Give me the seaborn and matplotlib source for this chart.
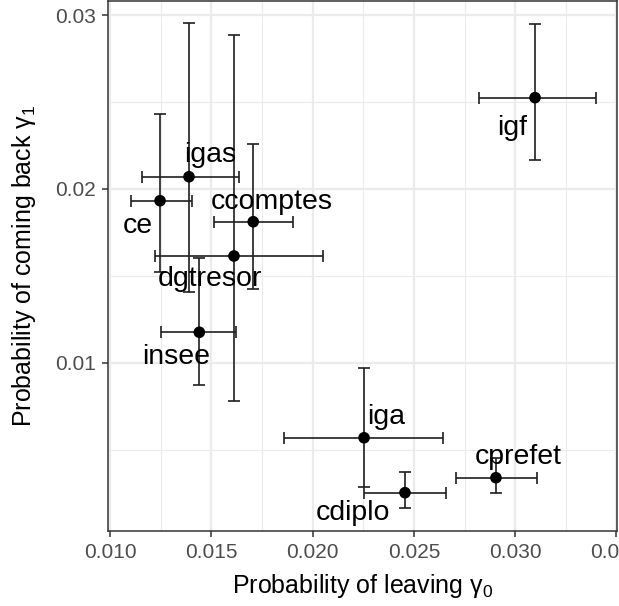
import pandas as pd
import matplotlib
matplotlib.use("Agg")
import matplotlib.pyplot as plt
import seaborn as sns

# Valeurs
corps = ["igf", "igas", "ce", "ccomptes", "dgtresor", "insee", "iga", "cdiplo", "cprefet"]
gamma0 = [0.03098, 0.01390, 0.01247, 0.01707, 0.01612, 0.01441, 0.02254, 0.02456, 0.02905]
gamma0_lo = [0.02821, 0.01158, 0.01102, 0.01513, 0.01222, 0.01252, 0.01859, 0.02254, 0.02709]
gamma0_hi = [0.03397, 0.01637, 0.01403, 0.01905, 0.02053, 0.01620, 0.02645, 0.02657, 0.03106]
gamma1 = [0.02525, 0.02070, 0.01932, 0.01811, 0.01614, 0.01175, 0.00568, 0.00252, 0.00338]
gamma1_lo = [0.02166, 0.01409, 0.01522, 0.01422, 0.00781, 0.00872, 0.00287, 0.00162, 0.00249]
gamma1_hi = [0.02949, 0.02953, 0.02431, 0.02257, 0.02886, 0.01601, 0.00971, 0.00373, 0.00453]

x_ticks = [0.010, 0.015, 0.020, 0.025, 0.030, 0.035]
y_ticks = [0.01, 0.02, 0.03]

# décalage des étiquettes (pixels)
label_dx = [-23, 21, -22, 19, -24, -23, 22, -52, 22]
label_dy = [-30, 22, -25, 20, -23, -25, 21, -20, 21]

df = pd.DataFrame({"corps": corps, "g0": gamma0, "g0_lo": gamma0_lo, "g0_hi": gamma0_hi,
                   "g1": gamma1, "g1_lo": gamma1_lo, "g1_hi": gamma1_hi})

sns.set_style("white")
plt.rcParams["font.family"] = ["Liberation Sans", "DejaVu Sans"]
plt.rcParams["mathtext.fontset"] = "custom"
plt.rcParams["mathtext.rm"] = "Liberation Sans"
plt.rcParams["mathtext.it"] = "Liberation Sans"

fig = plt.figure(figsize=(6.19, 6.06), dpi=100)
ax = fig.add_axes([108 / 619, 1 - 531 / 606, (617 - 108) / 619, 530 / 606])

ax.errorbar(df["g0"], df["g1"],
            xerr=[df["g0"] - df["g0_lo"], df["g0_hi"] - df["g0"]],
            yerr=[df["g1"] - df["g1_lo"], df["g1_hi"] - df["g1"]],
            fmt="none", ecolor="#1f1f1f", elinewidth=1.2, capsize=4, capthick=1.2, zorder=2)
sns.scatterplot(data=df, x="g0", y="g1", color="black", s=70, edgecolor="none", ax=ax, zorder=3)

for i, row in df.iterrows():
    ax.annotate(row["corps"], (row["g0"], row["g1"]), xytext=(label_dx[i], label_dy[i]),
                textcoords="offset pixels", ha="center", va="center", fontsize=20.5, color="black", zorder=4)

ax.set_xlim(0.0099013, 0.035025)
ax.set_ylim(0.000316, 0.030811)
ax.set_xticks(x_ticks)
ax.set_xticklabels([f"{v:.3f}" for v in x_ticks])
ax.set_yticks(y_ticks)
ax.set_yticklabels([f"{v:.2f}" for v in y_ticks])
ax.set_xticks([0.0125, 0.0175, 0.0225, 0.0275, 0.0325], minor=True)
ax.set_yticks([0.005, 0.015, 0.025], minor=True)
ax.grid(True, which="major", color="#EBEBEB", lw=1.6, zorder=0)
ax.grid(True, which="minor", color="#EBEBEB", lw=0.8, zorder=0)
ax.set_axisbelow(True)
ax.tick_params(which="major", length=4.5, width=1.1, color="#333333", labelcolor="#4D4D4D",
               labelsize=15, pad=4, bottom=True, left=True)
ax.tick_params(which="minor", length=0)
for sp in ax.spines.values():
    sp.set_color("#333333")
    sp.set_linewidth(1.1)

ax.set_xlabel(r"Probability of leaving $\gamma_0$", fontsize=18, color="black")
ax.set_ylabel(r"Probability of coming back $\gamma_1$", fontsize=18, color="black")
ax.xaxis.set_label_coords(0.5, -0.077)
ax.yaxis.set_label_coords(-0.137, 0.5)

fig.savefig("out.png", dpi=100)
plt.close()
